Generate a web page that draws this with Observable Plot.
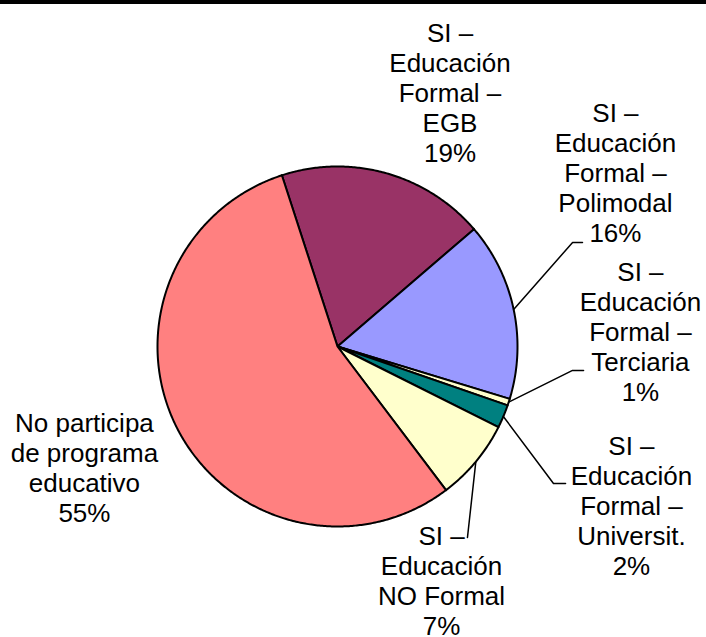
<!DOCTYPE html>
<html><head><meta charset="utf-8">
<script src="https://cdn.jsdelivr.net/npm/d3@7"></script>
<script src="https://cdn.jsdelivr.net/npm/@observablehq/plot@0.6"></script>
<style>
body{margin:0;background:#fff;}
#chart{width:706px;border-top:4px solid #000;}
</style></head><body><div id="chart"></div>
<script>
// ---- data ----
const categories = [
  "SI – Educación Formal – EGB",
  "SI – Educación Formal – Polimodal",
  "SI – Educación Formal – Terciaria",
  "SI – Educación Formal – Universit.",
  "SI – Educación NO Formal",
  "No participa de programa educativo"
];
const labelLines = [
  ["SI –", "Educación", "Formal –", "EGB"],
  ["SI –", "Educación", "Formal –", "Polimodal"],
  ["SI –", "Educación", "Formal –", "Terciaria"],
  ["SI –", "Educación", "Formal –", "Universit."],
  ["SI –", "Educación", "NO Formal"],
  ["No participa", "de programa", "educativo"]
];
const values = [18.7, 16.0, 0.6, 2.1, 7.3, 55.3];
const colors = ["#993366", "#9999FF", "#FFFFCC", "#008080", "#FFFFCC", "#FF8080"];

// ---- layout (pie units: radius = 1, y up) ----
const startAngle = -18 * Math.PI / 180;
const labelPos = [[0.625, 1.413], [1.544, 0.967], [1.683, 0.083], [1.633, -0.883], [0.578, -1.30], [-1.406, -0.672]];
const leaderPts = [null, [[1.306, 0.578], [1.361, 0.578]], [[1.306, -0.133], [1.367, -0.133]], [[1.2, -0.761], [1.267, -0.761]], [[0.722, -1.061]], null];

const R = 180, W = 706, H = 633, cx = 337, cy = 342;

const arcs = d3.pie().sort(null).value(d => d).startAngle(startAngle).endAngle(startAngle + 2 * Math.PI)(values);

const sliceMarks = arcs.map((a, i) => {
  const pts = [{x: 0, y: 0}];
  const n = Math.max(2, Math.ceil((a.endAngle - a.startAngle) / (Math.PI / 360)));
  for (let k = 0; k <= n; k++) {
    const t = a.startAngle + (a.endAngle - a.startAngle) * k / n;
    pts.push({x: Math.sin(t), y: Math.cos(t)});
  }
  return Plot.line(pts, {x: "x", y: "y", curve: "linear-closed", fill: colors[i], stroke: "#000", strokeWidth: 2, strokeLinejoin: "round"});
});

const leaderMarks = [];
arcs.forEach((a, i) => {
  if (!leaderPts[i]) return;
  const m = (a.startAngle + a.endAngle) / 2;
  const pts = [{x: Math.sin(m), y: Math.cos(m)}, ...leaderPts[i].map(([x, y]) => ({x, y}))];
  leaderMarks.push(Plot.line(pts, {x: "x", y: "y", stroke: "#000", strokeWidth: 1.5}));
});

const labels = categories.map((c, i) => ({
  x: labelPos[i][0], y: labelPos[i][1],
  text: labelLines[i].join("\n") + "\n" + Math.round(values[i]) + "%"
}));

const chart = Plot.plot({
  width: W, height: H,
  margin: 0,
  x: {axis: null, domain: [-cx / R, (W - cx) / R]},
  y: {axis: null, domain: [-(H - cy) / R, cy / R]},
  style: {background: "#fff"},
  marks: [
    ...sliceMarks,
    ...leaderMarks,
    Plot.text(labels, {x: "x", y: "y", text: "text", lineAnchor: "middle", textAnchor: "middle",
      lineHeight: 30 / 26, fontSize: 26, fontFamily: "Liberation Sans, Arial, sans-serif", fill: "#000"})
  ]
});
document.getElementById("chart").appendChild(chart);
</script></body></html>
